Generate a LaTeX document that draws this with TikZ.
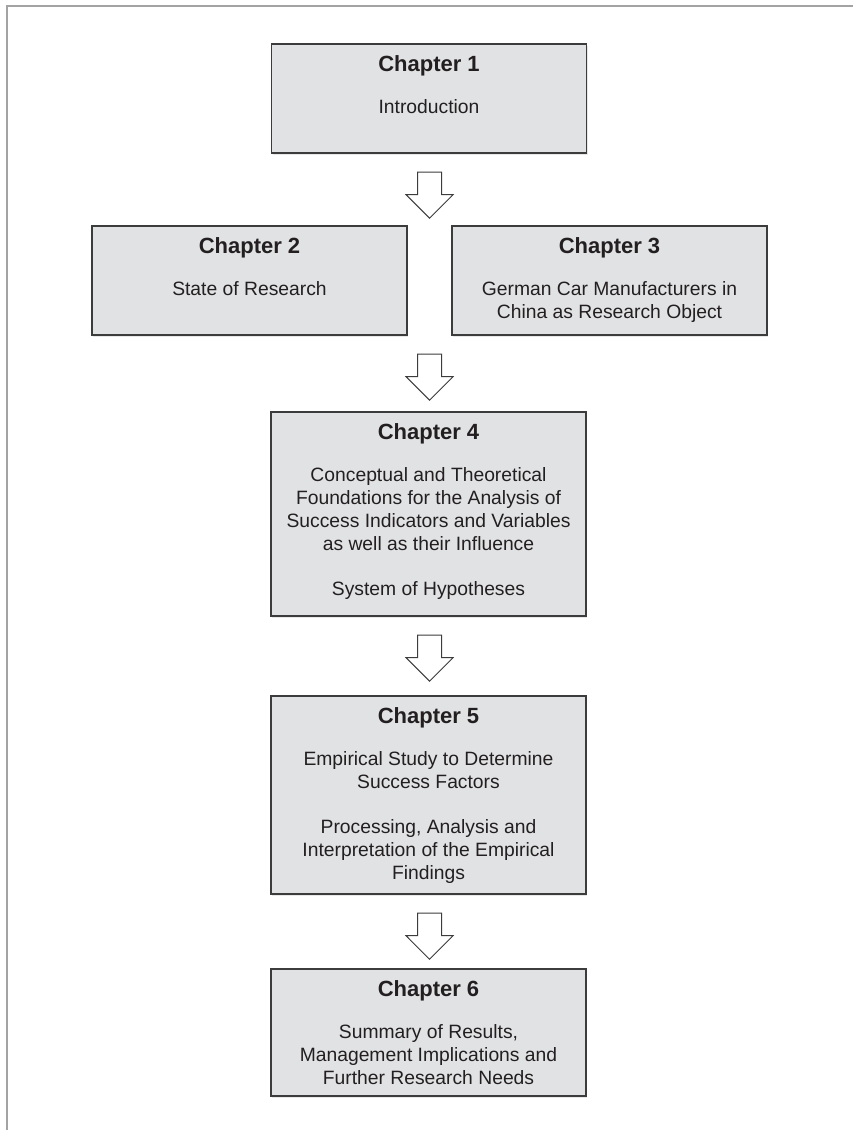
\documentclass[tikz,border=0pt]{standalone}
\usepackage{fontspec}
\setmainfont{Liberation Sans}
\usetikzlibrary{shapes.arrows,calc,shadows}
\definecolor{boxfill}{HTML}{E1E2E4}
\definecolor{boxline}{HTML}{3C3C3C}
\definecolor{inktext}{HTML}{231F20}
\definecolor{framegray}{HTML}{A3A3A3}
\newcommand\chaphead[1]{{\fontsize{22}{23}\selectfont\bfseries #1}}
\begin{document}
\begin{tikzpicture}[x=1pt,y=-1pt,
  chapbox/.style={draw=boxline, line width=1.4pt, fill=boxfill,
    minimum width=315pt, inner sep=0pt,
    drop shadow={shadow xshift=1.2pt, shadow yshift=-1.5pt, opacity=0.18}},
  chaptext/.style={anchor=north, align=center, inner sep=0pt, text=inktext,
    font=\fontsize{19.3}{23}\selectfont},
  flowarrow/.style={single arrow, shape border rotate=270, draw=boxline,
    line width=1pt, fill=white, minimum height=46pt, minimum width=46pt,
    single arrow head extend=11.5pt, inner sep=11.5pt, anchor=tail}
]
\useasboundingbox (0,0) rectangle (853,1130);

% page frame (top and left edges)
\draw[framegray, line width=2pt] (6.5,1130) -- (6.5,5.5) -- (853,5.5);

% chapter boxes
\node[chapbox, minimum height=109pt] (ch1) at (429,98.5) {};
\node[chapbox, minimum height=109pt] (ch2) at (249.5,280.5) {};
\node[chapbox, minimum height=109pt] (ch3) at (609.5,280.5) {};
\node[chapbox, minimum height=204pt] (ch4) at (428.5,514) {};
\node[chapbox, minimum height=198pt] (ch5) at (428.5,795) {};
\node[chapbox, minimum height=127pt] (ch6) at (428.5,1032.5) {};

% box contents
\node[chaptext] (t1) at ($(ch1.north)+(0,12)$)
  {\chaphead{Chapter 1}\\[19pt]Introduction};
\node[chaptext] (t2) at ($(ch2.north)+(0,12)$)
  {\chaphead{Chapter 2}\\[19pt]State of Research};
\node[chaptext] (t3) at ($(ch3.north)+(0,12)$)
  {\chaphead{Chapter 3}\\[19pt]German Car Manufacturers in\\China as Research Object};
\node[chaptext] (t4) at ($(ch4.north)+(0,12)$)
  {\chaphead{Chapter 4}\\[19pt]Conceptual and Theoretical\\Foundations for the Analysis of\\Success Indicators and Variables\\as well as their Influence\\[22pt]System of Hypotheses};
\node[chaptext] (t5) at ($(ch5.north)+(0,12)$)
  {\chaphead{Chapter 5}\\[19pt]Empirical Study to Determine\\Success Factors\\[22pt]Processing, Analysis and\\Interpretation of the Empirical\\Findings};
\node[chaptext] (t6) at ($(ch6.north)+(0,12)$)
  {\chaphead{Chapter 6}\\[19pt]Summary of Results,\\Management Implications and\\Further Research Needs};

% block arrows between the chapters
\node[flowarrow] (a1) at ($(ch1.south)+(0.5,18)$) {};
\node[flowarrow] (a2) at ($($(ch2.south east)!0.5!(ch3.south west)$)+(0,18)$) {};
\node[flowarrow] (a3) at ($(ch4.south)+(1,18)$) {};
\node[flowarrow] (a4) at ($(ch5.south)+(1,18)$) {};
\end{tikzpicture}
\end{document}
